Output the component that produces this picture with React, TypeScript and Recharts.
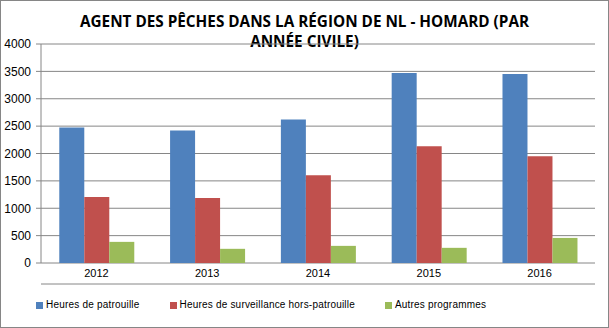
import * as React from 'react';
import { BarChart, Bar, XAxis, YAxis, CartesianGrid } from 'recharts';

const years = ['2012', '2013', '2014', '2015', '2016'];
const patrouille = [2475, 2422, 2622, 3470, 3452];
const surveillance = [1205, 1187, 1604, 2133, 1952];
const autres = [386, 259, 313, 277, 458];
const yTicks = [0, 500, 1000, 1500, 2000, 2500, 3000, 3500, 4000];
const boundaryTicks = [0, 1, 2, 3, 4, 5];

const seriesInfo = [
  { key: 'patrouille', name: 'Heures de patrouille', color: '#4F81BD' },
  { key: 'surveillance', name: 'Heures de surveillance hors-patrouille', color: '#C0504D' },
  { key: 'autres', name: 'Autres programmes', color: '#9BBB59' },
];

const data = years.map((year, i) => ({
  year,
  patrouille: patrouille[i],
  surveillance: surveillance[i],
  autres: autres[i],
}));

const font = '"Liberation Sans", Arial, sans-serif';
const gray = '#868686';

export default function App() {
  return (
    <div style={{ position: 'absolute', left: 0, top: 0, width: 609, height: 328, boxSizing: 'border-box', border: `1px solid ${gray}`, background: '#fff', fontFamily: font }}>
      <div style={{ position: 'absolute', left: -1, top: 10, width: 609, textAlign: 'center', fontWeight: 'bold', fontSize: 15.3, lineHeight: '20px', color: '#000', fontFamily: '"Open Sans", sans-serif' }}>
        AGENT DES PÊCHES DANS LA RÉGION DE NL - HOMARD (PAR<br />ANNÉE CIVILE)
      </div>
      <div style={{ position: 'absolute', left: -1, top: -1 }}>
        <BarChart width={609} height={328} data={data} barGap={0} barCategoryGap="16.5%"
          margin={{ top: 44, right: 14, left: 0, bottom: 40 }}>
          <CartesianGrid vertical={false} stroke={gray} strokeDasharray="" />
          <XAxis xAxisId="t" type="number" domain={[0, 5]} ticks={boundaryTicks} tick={false}
            tickLine={{ stroke: gray }} tickSize={5} axisLine={{ stroke: gray }} height={4} />
          <XAxis dataKey="year" axisLine={false} tickLine={false} height={21}
            tick={{ fontSize: 11, fill: '#000', fontFamily: font }} tickMargin={0} />
          <YAxis domain={[0, 4000]} ticks={yTicks} width={41} tickSize={5} tickMargin={5}
            axisLine={{ stroke: gray }} tickLine={{ stroke: gray }}
            tick={{ fontSize: 12, fill: '#000', fontFamily: font }} />
          {seriesInfo.map((s) => (
            <Bar key={s.key} dataKey={s.key} name={s.name} fill={s.color} isAnimationActive={false} />
          ))}
        </BarChart>
      </div>
      <div style={{ position: 'absolute', left: 35, top: 297, display: 'flex', fontSize: 10, lineHeight: '14px', color: '#000' }}>
        {seriesInfo.map((s) => (
          <div key={s.key} style={{ display: 'flex', alignItems: 'center', marginRight: 30 }}>
            <span style={{ width: 7, height: 7, background: s.color, marginRight: 3, display: 'inline-block' }} />
            <span style={{ letterSpacing: 0.2 }}>{s.name}</span>
          </div>
        ))}
      </div>
    </div>
  );
}
